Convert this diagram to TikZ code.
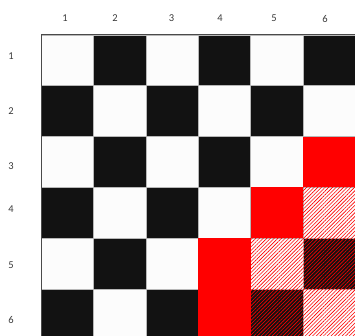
\documentclass[tikz,border=0pt]{standalone}
\usepackage{fontspec}
\setmainfont{Carlito}
\usetikzlibrary{patterns.meta}
\definecolor{tabRojo}{HTML}{FF0000}
\definecolor{tabNegro}{HTML}{121212}
\definecolor{tabBlanco}{HTML}{FCFCFC}
\definecolor{tabBorde}{HTML}{4A4A4A}
\definecolor{tabLinea}{HTML}{B8B8B8}
\definecolor{tabTexto}{HTML}{3A3A3A}

\begin{document}
\begin{tikzpicture}[x=1pt, y=-1pt, font=\fontsize{10.5}{12}\selectfont,
        etiqueta/.style={text=tabTexto, inner sep=0pt},
        casilla/.style={draw=tabLinea, line width=0.6pt},
        rayado/.style={pattern={Lines[angle=45, distance=2.6pt, line width=0.6pt]},
            pattern color=tabRojo}]
    \useasboundingbox (0,0) rectangle (355,336);
    % tablero base
    \foreach \c in {1,...,6}
        \foreach \f in {1,...,6} {
            \pgfmathsetmacro{\xa}{41+(\c-1)*52.4}
            \pgfmathsetmacro{\ya}{35+(\f-1)*50.8}
            \pgfmathtruncatemacro{\paridad}{mod(\c+\f,2)}
            \ifnum\paridad=0
                \fill[tabBlanco, casilla] (\xa,\ya) rectangle ++(52.4,50.8);
            \else
                \fill[tabNegro, casilla] (\xa,\ya) rectangle ++(52.4,50.8);
            \fi
        }
    % casillas rojas
    \foreach \c/\f in {6/3, 5/4, 4/5, 4/6}
        \fill[tabRojo] ({41+(\c-1)*52.4},{35+(\f-1)*50.8}) rectangle ++(52.4,50.8);
    % casillas rayadas
    \foreach \c/\f in {6/4, 5/5, 6/6, 6/5, 5/6}
        \fill[rayado] ({41+(\c-1)*52.4},{35+(\f-1)*50.8}) rectangle ++(52.4,50.8);
    % borde exterior
    \draw[tabBorde, line width=1pt] (41,340) -- (41,35) -- (356,35);
    % etiquetas
    \foreach \n/\x in {1/65, 2/115, 3/171.5, 4/220, 5/274, 6/325}
        \node[etiqueta] (col\n) at (\x,18.5) {\n};
    \foreach \n/\y in {1/56.5, 2/111.5, 3/166.5, 4/209.5, 5/265, 6/320}
        \node[etiqueta] (fila\n) at (11,\y) {\n};
\end{tikzpicture}
\end{document}
